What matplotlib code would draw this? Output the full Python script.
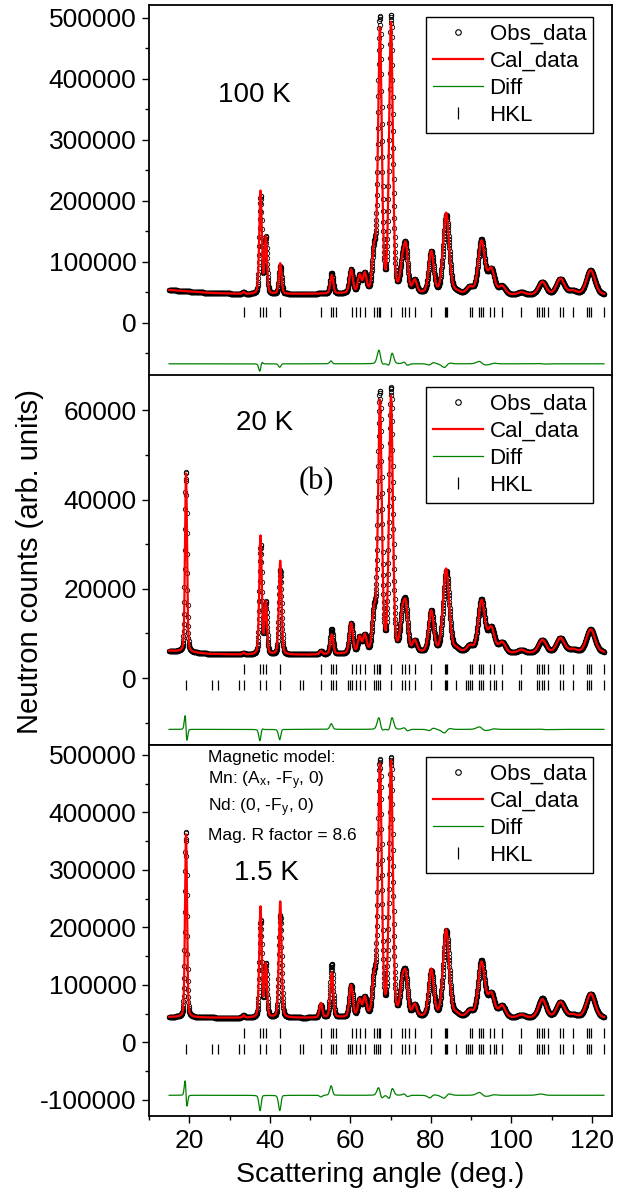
import matplotlib
matplotlib.use('Agg')
import matplotlib.pyplot as plt
import numpy as np
from matplotlib.lines import Line2D

plt.rcParams['font.family'] = ['Liberation Sans', 'DejaVu Sans']
plt.rcParams['mathtext.fontset'] = 'custom'
plt.rcParams['mathtext.rm'] = 'Liberation Sans'
plt.rcParams['mathtext.it'] = 'Liberation Sans:italic'
plt.rcParams['axes.unicode_minus'] = False

# peak list (deg)
peak_pos = [19.2, 33.5, 37.7, 39.0, 42.6, 52.7, 55.4, 60.2, 62.3, 63.6, 65.9, 67.35, 70.1,
            72.9, 73.8, 76.0, 80.1, 83.8, 86.3, 89.7, 92.6, 95.0, 97.7, 102.5, 107.7, 112.2,
            115.3, 119.7]
peak_fwhm = [0.6, 0.6, 0.72, 0.72, 0.78, 0.8, 0.85, 1.0, 1.0, 1.0, 1.05, 1.1, 1.1,
             1.2, 1.2, 1.25, 1.45, 1.75, 1.6, 1.7, 1.9, 1.9, 1.9, 2.0, 2.2, 2.3, 2.4, 2.5]
obs_shift = [-0.03, 0, 0.02, 0, 0.02, 0, -0.03, 0, 0, 0, 0, -0.015, 0.015,
             0, -0.03, 0, 0.03, 0.03, 0, 0, -0.04, 0.03, 0, 0, -0.03, 0, 0, 0]

# 100 K
cal_100 = [0, 3000, 168000, 92000, 50000, 0, 30000, 38000, 28000, 30000, 65000, 430000, 440000,
           42000, 70000, 20000, 68000, 132000, 3000, 10000, 86000, 40000, 13000, 4000, 21000, 26000,
           6000, 40000]
obs_100 = [0, 3000, 160000, 92000, 45000, 0, 34000, 38000, 28000, 30000, 65000, 448000, 452000,
           42000, 70000, 20000, 68000, 128000, 3000, 10000, 88000, 40000, 13000, 4000, 21000, 26000,
           6000, 40000]
bg_ang = [15, 25, 35, 50, 60, 90, 100, 123]
bg_100 = [54000, 49000, 47000, 47500, 48000, 47000, 45500, 46000]

# 20 K
cal_20 = [40000, 400, 26500, 11500, 21000, 700, 4400, 6700, 3500, 3800, 8500, 56000, 57000,
          7500, 9500, 2500, 9200, 18700, 700, 1300, 11500, 5400, 2300, 700, 2900, 3300,
          700, 5200]
obs_20 = [40500, 400, 24500, 11500, 19000, 700, 5600, 6700, 3500, 3800, 8500, 58000, 59000,
          7500, 9500, 2500, 9200, 18200, 700, 1300, 11800, 5400, 2300, 700, 2900, 3300,
          700, 5200]
bg_20 = [6100, 5400, 5200, 5200, 5400, 5700, 5500, 5700]

# 1.5 K
cal_15 = [318000, 4000, 192000, 92000, 202000, 25000, 78000, 55000, 29000, 32000, 62000, 435000, 442000,
          52000, 65000, 20000, 82000, 152000, 5000, 10000, 95000, 40000, 20000, 5000, 32000, 27000,
          5000, 42000]
obs_15 = [323000, 4000, 168000, 92000, 178000, 22000, 93000, 55000, 29000, 32000, 62000, 442000, 447000,
          52000, 65000, 20000, 79000, 150000, 5000, 10000, 98000, 40000, 20000, 5000, 34000, 27000,
          5000, 42000]
bg_15 = [44000, 43000, 42500, 42500, 43000, 43000, 42000, 42500]

# reflection markers
hkl_nuc = [33.5, 37.66, 38.35, 39.15, 42.6, 52.7, 55.3, 55.8, 56.4, 60.3, 61.5, 62.5, 63.65,
           65.9, 66.6, 67.1, 67.4, 70.1, 72.9, 73.7, 74.6, 76.05, 80.1, 83.4, 83.7, 83.9,
           89.7, 90.2, 92.0, 92.5, 93.0, 94.6, 95.6, 97.7, 102.5, 106.3, 106.9, 107.6, 108.1,
           109.1, 112.1, 112.9, 115.3, 118.8, 119.4, 119.8, 123.0]
hkl_mag = [19.3, 25.75, 27.2, 32.4, 33.5, 37.66, 39.15, 42.6, 47.4, 48.2, 52.7, 55.3, 55.8,
           56.4, 59.5, 60.0, 60.5, 61.5, 62.5, 63.65, 65.9, 66.4, 66.9, 67.4, 70.1, 72.9, 73.7,
           74.6, 76.05, 80.1, 83.4, 83.7, 84.0, 86.3, 88.75, 89.25, 89.7, 90.2, 92.0, 92.5,
           93.0, 94.6, 95.6, 96.2, 97.7, 101.8, 102.5, 106.3, 106.9, 107.6, 108.1, 109.1,
           112.1, 112.9, 115.3, 118.8, 119.4, 119.8, 123.0]

tth = np.arange(15, 123.01, 0.05)


def profile(x, pos, fwhm, amp, bg):
    y = np.interp(x, bg_ang, bg).astype(float)
    for p, w, a in zip(pos, fwhm, amp):
        g = np.exp(-4 * np.log(2) * ((x - p) / w) ** 2)
        l = 1 / (1 + 4 * ((x - p) / w) ** 2)
        y += a * (0.75 * g + 0.25 * l)
    return y


panels = [
    dict(cal=cal_100, obs=obs_100, bg=bg_100, ylim=(-87000, 521000), major=100000, minor=50000,
         diff_off=-67000, rows=[(hkl_nuc, 18000)], label='100 K', lab_xy=(0.15, 0.757)),
    dict(cal=cal_20, obs=obs_20, bg=bg_20, ylim=(-15000, 67900), major=20000, minor=10000,
         diff_off=-11500, rows=[(hkl_nuc, 2000), (hkl_mag, -1600)], label='20 K', lab_xy=(0.187, 0.87)),
    dict(cal=cal_15, obs=obs_15, bg=bg_15, ylim=(-128000, 517000), major=100000, minor=50000,
         diff_off=-92000, rows=[(hkl_nuc, 17000), (hkl_mag, -12000)], label='1.5 K', lab_xy=(0.184, 0.655)),
]

W, H = 622, 1193
fig = plt.figure(figsize=(W / 100, H / 100), dpi=100)
boxes = [(5, 376), (375, 745), (745, 1116)]
obs_pos = [p + s for p, s in zip(peak_pos, obs_shift)]
ax_left, ax_w = 149, 463

for i, (pan, (top, bot)) in enumerate(zip(panels, boxes)):
    ax = fig.add_axes([ax_left / W, 1 - bot / H, ax_w / W, (bot - top) / H])
    ycal = profile(tth, peak_pos, peak_fwhm, pan['cal'], pan['bg'])
    yobs = profile(tth, obs_pos, peak_fwhm, pan['obs'], pan['bg'])
    ax.plot(tth, yobs, 'o', ms=3.2, mfc='none', mec='black', mew=0.6, zorder=2)
    ax.plot(tth, ycal, color='red', lw=1.6, zorder=3)
    ax.plot(tth, yobs - ycal + pan['diff_off'], color='green', lw=0.9, zorder=3)
    for hkl, yrow in pan['rows']:
        ax.plot(hkl, [yrow] * len(hkl), '|', ms=6.5, mew=0.9, color='black', zorder=3)
    ax.set_xlim(10.1, 125)
    ax.set_xticks(np.arange(20, 121, 20))
    ax.set_xticks(np.arange(10, 125, 10), minor=True)
    ax.set_yticks(np.arange(-100000, 500001, pan['major']))
    ax.set_yticks(np.arange(-100000, 500001, pan['minor']), minor=True)
    ax.set_ylim(*pan['ylim'])
    ax.tick_params(axis='both', which='major', direction='out', length=5, width=1,
                   labelsize=19, pad=4)
    ax.tick_params(axis='both', which='minor', direction='out', length=3, width=1)
    if i < 2:
        ax.tick_params(axis='x', which='both', labelbottom=False)
    for s in ax.spines.values():
        s.set_linewidth(1.3)
    ax.text(*pan['lab_xy'], pan['label'], transform=ax.transAxes, fontsize=20, va='center', ha='left')

    handles = [Line2D([], [], ls='none', marker='o', ms=4, mfc='none', mec='black', mew=0.8),
               Line2D([], [], color='red', lw=1.6),
               Line2D([], [], color='green', lw=0.9),
               Line2D([], [], ls='none', marker='|', ms=8, mew=0.9, color='black')]
    leg = ax.legend(handles, ['Obs_data', 'Cal_data', 'Diff', 'HKL'], loc='upper right',
                    bbox_to_anchor=(0.959, 0.968), borderaxespad=0, fontsize=16, fancybox=False,
                    framealpha=1, edgecolor='black', handlelength=2.25, handletextpad=0.3,
                    borderpad=0.3, numpoints=1, labelspacing=0.28)
    leg.get_frame().set_linewidth(1.0)

    if i == 1:
        ax.text(0.324, 0.711, '(b)', transform=ax.transAxes, fontsize=22,
                family='Liberation Serif', va='center', ha='left')
    if i == 2:
        info = ['Magnetic model:', r'Mn: (A$_\mathrm{x}$, -F$_\mathrm{y}$, 0)',
                r'Nd: (0, -F$_\mathrm{y}$, 0)', 'Mag. R factor = 8.6']
        for t, yy in zip(info, [0.965, 0.903, 0.83, 0.755]):
            ax.text(0.128, yy, t, transform=ax.transAxes, fontsize=12.5, va='center', ha='left')

fig.text(30 / W, 1 - 562 / H, 'Neutron counts (arb. units)', rotation=90, fontsize=21,
         va='center', ha='center')
fig.text(380 / W, 1 - 1175 / H, 'Scattering angle (deg.)', fontsize=20.5, va='center', ha='center')

fig.savefig('out.png', dpi=100)
